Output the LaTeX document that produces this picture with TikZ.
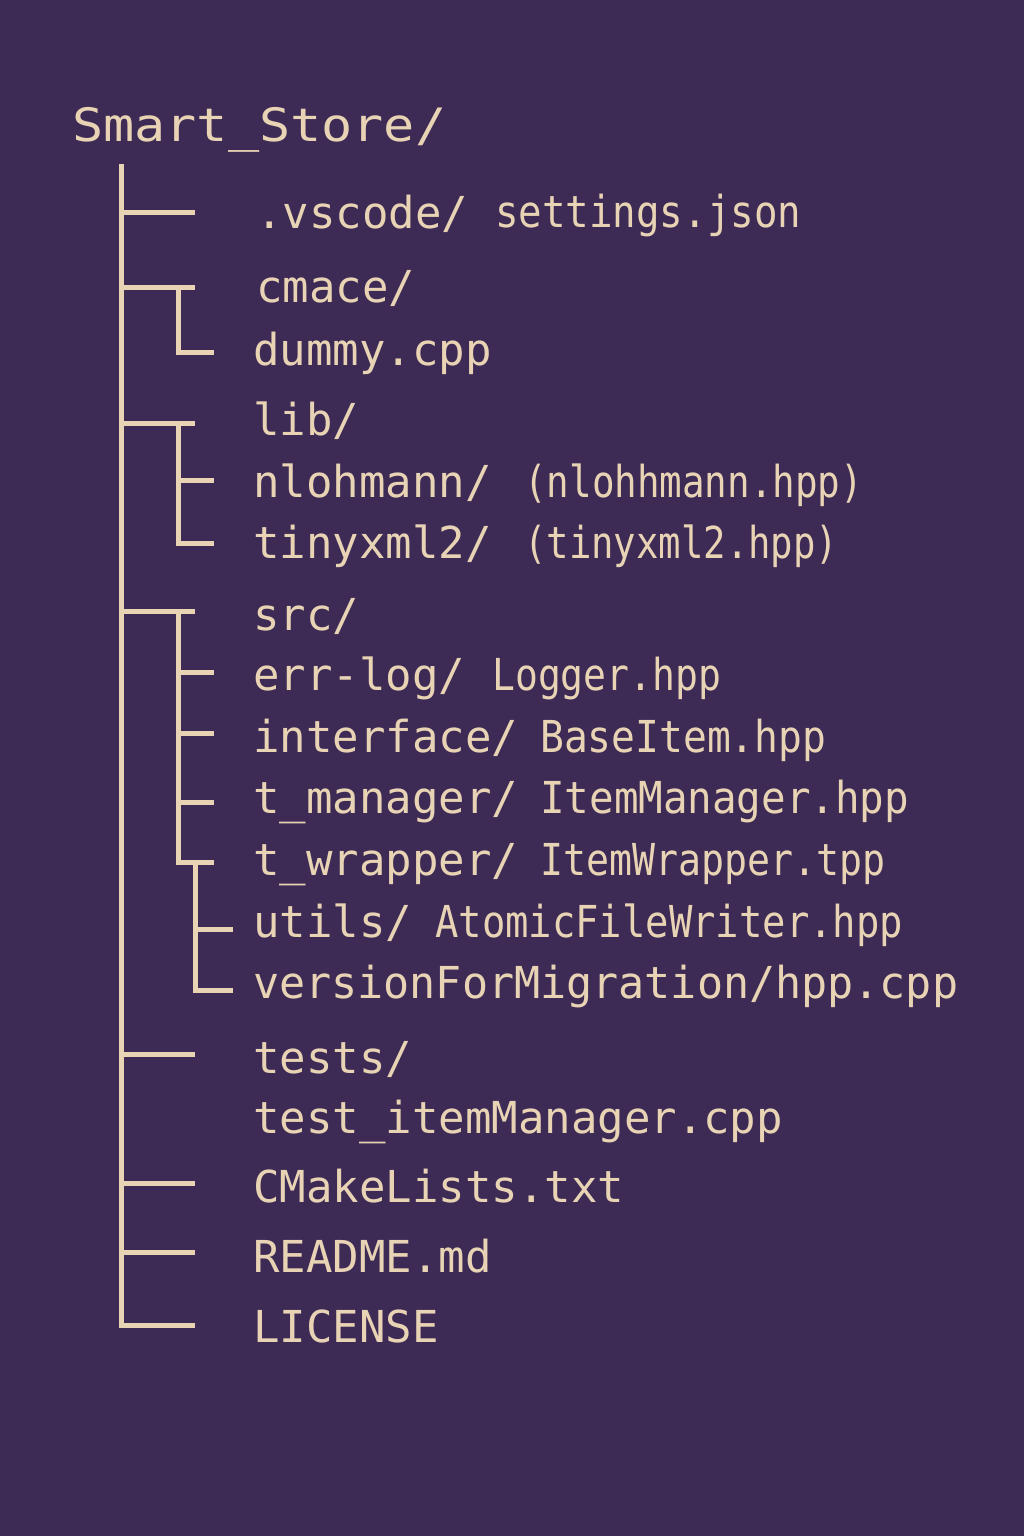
\documentclass[tikz,border=0pt]{standalone}
\usepackage{graphicx}
\usepackage{fontspec}
\newfontfamily\treefont{DejaVu Sans Mono}
\definecolor{bg}{HTML}{3D2B56}
\definecolor{ink}{HTML}{E8D3B4}
\newcommand\fitto[2]{\resizebox{#1pt}{\height}{#2}}
\tikzset{
  entry/.style={anchor=base west, inner sep=0pt, text=ink,
    font=\treefont\fontsize{44}{50}\selectfont},
  titletext/.style={anchor=base west, inner sep=0pt, text=ink,
    font=\treefont\fontsize{46}{52}\selectfont},
  tree/.style={draw=ink, line width=5pt},
}
\begin{document}
\begin{tikzpicture}[x=1pt,y=-1pt]
\fill[bg] (0,0) rectangle (1024,1536);
\useasboundingbox (0,0) rectangle (1024,1536);

% texts
\node[titletext] (root) at (72,142) {\fitto{374}{Smart\_Store/}};
\node[entry] (vscode) at (256,228) {.vscode/};
\node[entry] (settings) at (495,227) {\fitto{306}{settings.json}};
\node[entry] (cmace) at (256,302) {cmace/};
\node[entry] (dummy) at (253,365) {dummy.cpp};
\node[entry] (lib) at (253,435) {lib/};
\node[entry] (nlohmann) at (253,497) {nlohmann/};
\node[entry] (nlohh) at (524,497) {\fitto{339}{(nlohhmann.hpp)}};
\node[entry] (tinyxml) at (253,558) {tinyxml2/};
\node[entry] (tinyh) at (524,558) {\fitto{314}{(tinyxml2.hpp)}};
\node[entry] (src) at (253,630) {src/};
\node[entry] (errlog) at (253,690) {err-log/};
\node[entry] (logger) at (492,690) {\fitto{229}{Logger.hpp}};
\node[entry] (iface) at (253,752) {interface/};
\node[entry] (baseitem) at (540,752) {\fitto{286}{BaseItem.hpp}};
\node[entry] (tman) at (253,813) {t\_manager/};
\node[entry] (itemman) at (540,813) {\fitto{369}{ItemManager.hpp}};
\node[entry] (twrap) at (253,875) {t\_wrapper/};
\node[entry] (itemwrap) at (540,875) {\fitto{345}{ItemWrapper.tpp}};
\node[entry] (utils) at (253,937) {utils/};
\node[entry] (atomic) at (435,937) {\fitto{468}{AtomicFileWriter.hpp}};
\node[entry] (version) at (253,998) {\fitto{705}{versionForMigration/hpp.cpp}};
\node[entry] (tests) at (253,1073) {tests/};
\node[entry] (testim) at (253,1133) {test\_itemManager.cpp};
\node[entry] (cmake) at (253,1202) {CMakeLists.txt};
\node[entry] (readme) at (253,1272) {README.md};
\node[entry] (license) at (253,1342) {LICENSE};

% tree coordinates
\coordinate (trunkTop) at (121,164);
\coordinate (trunkBot) at (121,1325);
\coordinate (bVscode) at (195,212);
\coordinate (bCmace) at (195,287);
\coordinate (bLib) at (195,423);
\coordinate (bSrc) at (195,611);
\coordinate (bTests) at (195,1054);
\coordinate (bCmake) at (195,1183);
\coordinate (bReadme) at (195,1252);
\coordinate (bLicense) at (195,1325);

\coordinate (cTop) at (178,287);
\coordinate (cDummy) at (214,352);
\coordinate (lTop) at (178,423);
\coordinate (lNl) at (214,480);
\coordinate (lTiny) at (214,543);
\coordinate (sTop) at (178,611);
\coordinate (sErr) at (214,672);
\coordinate (sIface) at (214,733);
\coordinate (sTman) at (214,802);
\coordinate (sTwrap) at (214,862);
\coordinate (wTop) at (195,862);
\coordinate (wUtils) at (233,929);
\coordinate (wVersion) at (233,990);

% trunk and branches
\draw[tree] (trunkTop) |- (bLicense);
\foreach \b in {bVscode,bCmace,bLib,bSrc,bTests,bCmake,bReadme}
  \draw[tree] (trunkTop |- \b) -- (\b);

% cmace
\draw[tree] (cTop) |- (cDummy);
% lib
\draw[tree] (lTop) |- (lTiny);
\draw[tree] (lTop |- lNl) -- (lNl);
% src
\draw[tree] (sTop) |- (sTwrap);
\draw[tree] (sTop |- sErr) -- (sErr);
\draw[tree] (sTop |- sIface) -- (sIface);
\draw[tree] (sTop |- sTman) -- (sTman);
% t_wrapper sub-tree
\draw[tree] (wTop) |- (wVersion);
\draw[tree] (wTop |- wUtils) -- (wUtils);
\end{tikzpicture}
\end{document}
